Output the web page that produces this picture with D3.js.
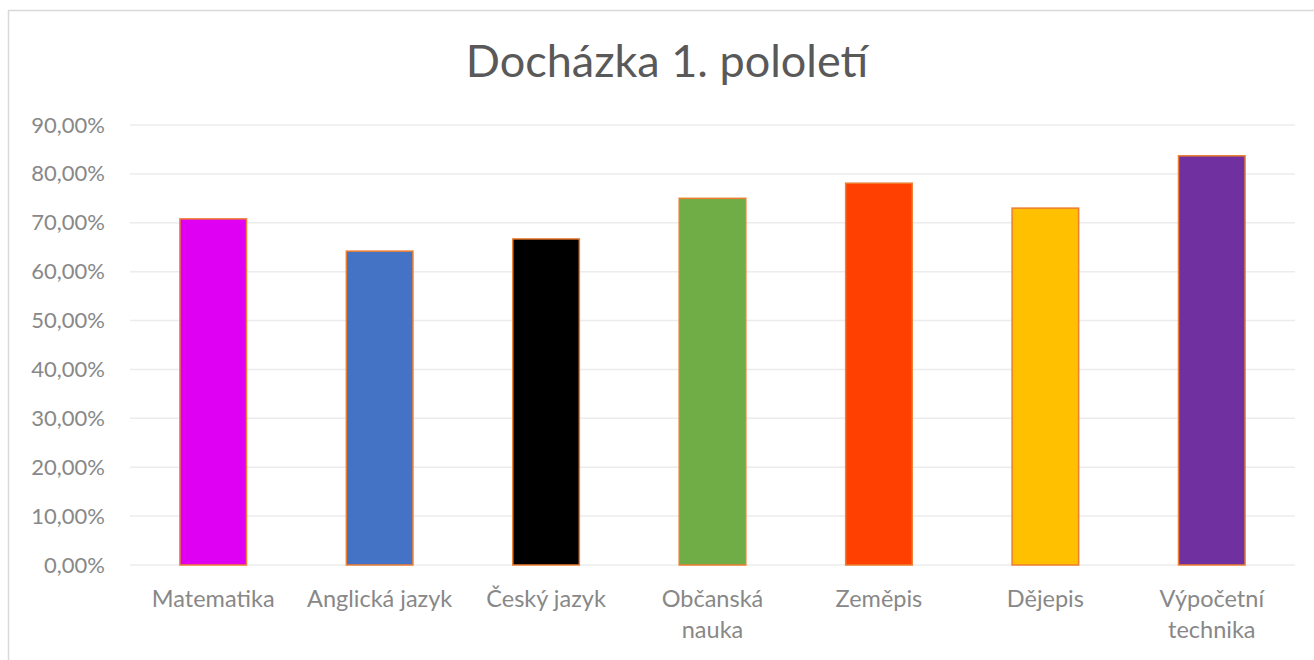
<!DOCTYPE html>
<html>
<head>
<meta charset="utf-8">
<script src="https://cdn.jsdelivr.net/npm/d3@7"></script>
<style>
  body { margin: 0; background: #fff; }
  text { font-family: Lato, "Open Sans", sans-serif; }
</style>
</head>
<body>
<div id="chart"></div>
<script>
var width = 1314;
var height = 660;

var subjects = [['Matematika'], ['Anglická jazyk'], ['Český jazyk'], ['Občanská', 'nauka'],
                ['Zeměpis'], ['Dějepis'], ['Výpočetní', 'technika']];
var attendance = [70.8, 64.2, 66.7, 75.0, 78.1, 73.0, 83.7];
var barColors = ['#df00f3', '#4472c4', '#000000', '#70ad47', '#ff4000', '#ffc000', '#7030a0'];
var yTicks = [0, 10, 20, 30, 40, 50, 60, 70, 80, 90];

var margin = {top: 125, right: 19, bottom: 95, left: 130};

var svg = d3.select('#chart').append('svg')
    .attr('width', width)
    .attr('height', height);

// chart frame (only top and left edges show in the picture)
svg.append('rect')
    .attr('x', 8.5)
    .attr('y', 10.5)
    .attr('width', 1320)
    .attr('height', 700)
    .attr('fill', 'none')
    .attr('stroke', '#d9d9d9')
    .attr('stroke-width', 1.5);

svg.append('text')
    .attr('x', 667)
    .attr('y', 77)
    .attr('text-anchor', 'middle')
    .style('font-size', '45px')
    .style('fill', '#595959')
    .text('Docházka 1. pololetí');

var x = d3.scaleBand()
    .domain(d3.range(subjects.length))
    .range([margin.left, width - margin.right])
    .paddingInner(0.6)
    .paddingOuter(0.3);

var y = d3.scaleLinear()
    .domain([0, 90])
    .range([height - margin.bottom, margin.top]);

// gridlines
svg.append('g')
    .selectAll('line')
    .data(yTicks)
    .join('line')
    .attr('x1', margin.left)
    .attr('x2', width - margin.right)
    .attr('y1', function (d) { return y(d); })
    .attr('y2', function (d) { return y(d); })
    .attr('stroke', '#ececec')
    .attr('stroke-width', 1.5);

var yAxis = svg.append('g')
    .attr('transform', 'translate(' + (margin.left - 25) + ',0)')
    .call(d3.axisLeft(y)
        .tickValues(yTicks)
        .tickSize(0)
        .tickPadding(0)
        .tickFormat(function (d) { return d3.format('.2f')(d).replace('.', ',') + '%'; }));
yAxis.select('.domain').remove();
yAxis.selectAll('text')
    .style('font-size', '22px')
    .style('fill', '#888888')
    .attr('font-family', null);

svg.append('g')
    .selectAll('rect')
    .data(attendance)
    .join('rect')
    .attr('x', function (d, i) { return x(i); })
    .attr('y', function (d) { return y(d); })
    .attr('width', x.bandwidth())
    .attr('height', function (d) { return y(0) - y(d); })
    .attr('fill', function (d, i) { return barColors[i]; })
    .attr('stroke', '#ed7d31')
    .attr('stroke-width', 1.5);

var xAxis = svg.append('g')
    .attr('transform', 'translate(0,' + y(0) + ')')
    .call(d3.axisBottom(x).tickSize(0).tickFormat(''));
xAxis.select('.domain').remove();

xAxis.selectAll('.tick').each(function (i) {
    var t = d3.select(this).append('text')
        .attr('text-anchor', 'middle')
        .attr('fill', '#888888')
        .style('font-size', '23.5px');
    subjects[i].forEach(function (line, k) {
        t.append('tspan')
            .attr('x', 0)
            .attr('y', 42 + k * 31)
            .text(line);
    });
});
</script>
</body>
</html>
